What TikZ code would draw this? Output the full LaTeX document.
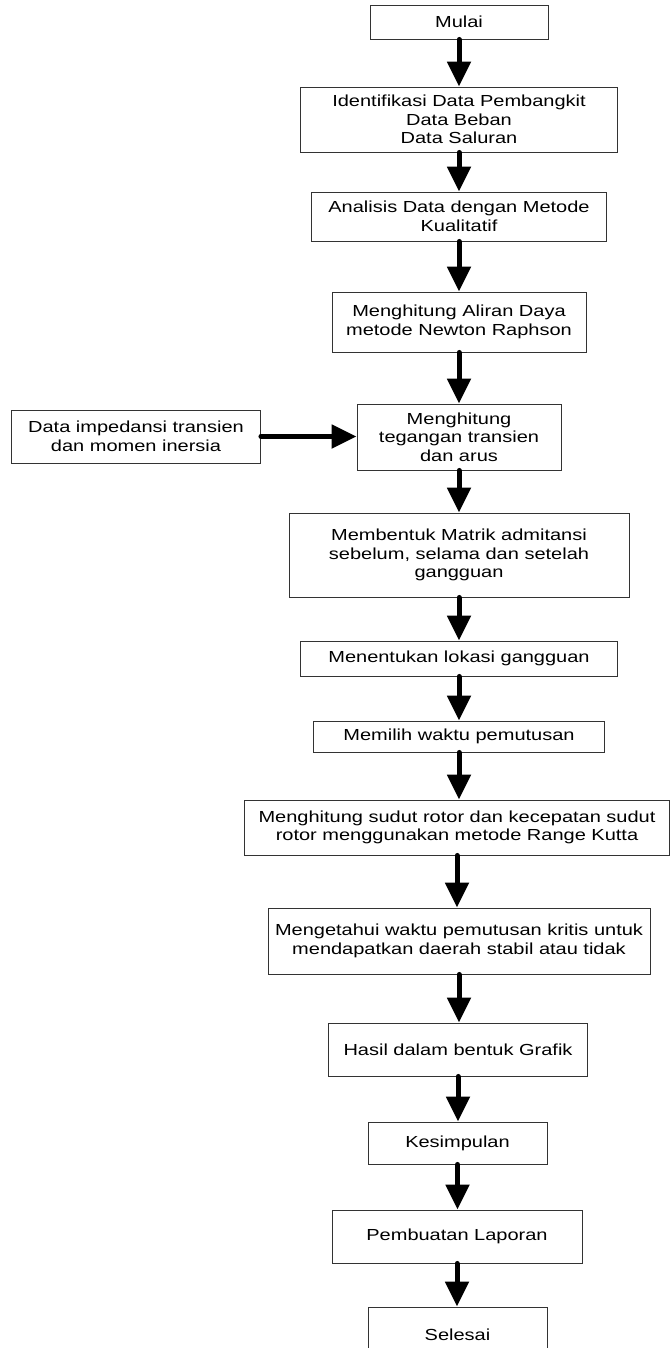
\documentclass[tikz,border=0pt]{standalone}
\usepackage{fontspec}
\setmainfont[FakeStretch=1.25]{Liberation Sans}
\usetikzlibrary{arrows.meta}
\tikzset{
  box/.style={draw=black!80, line width=0.9pt, fill=white, align=center,
    inner sep=0pt, font=\fontsize{16}{18.6}\selectfont},
  flow/.style={line width=5pt, line cap=round,
    -{Triangle[width=23pt,length=25pt]}}
}
\begin{document}
\begin{tikzpicture}[x=1pt,y=-1pt]
\useasboundingbox (0,0) rectangle (670,1348);
\node[box, minimum width=178pt, minimum height=34pt] (mulai) at (459,22) {Mulai};
\node[box, minimum width=317pt, minimum height=65pt] (ident) at (459,119.5) {Identifikasi Data Pembangkit\\Data Beban\\Data Saluran};
\node[box, minimum width=295pt, minimum height=49pt] (anal) at (459,216.5) {Analisis Data dengan Metode\\Kualitatif};
\node[box, minimum width=254pt, minimum height=60pt] (aliran) at (459,322) {Menghitung Aliran Daya\\metode Newton Raphson};
\node[box, minimum width=204pt, minimum height=66pt] (teg) at (459,437) {Menghitung\\tegangan transien\\dan arus};
\node[box, minimum width=249pt, minimum height=53pt] (imp) at (136,436.5) {Data impedansi transien\\dan momen inersia};
\node[box, minimum width=340pt, minimum height=84pt] (matrik) at (459,555) {Membentuk Matrik admitansi\\sebelum, selama dan setelah\\gangguan};
\node[box, minimum width=317pt, minimum height=35pt] (lokasi) at (459,658.5) {Menentukan lokasi gangguan};
\node[box, minimum width=291pt, minimum height=31pt] (waktu) at (459,736.5) {Memilih waktu pemutusan};
\node[box, minimum width=425pt, minimum height=55pt] (sudut) at (457,827.5) {Menghitung sudut rotor dan kecepatan sudut\\rotor menggunakan metode Range Kutta};
\node[box, minimum width=382pt, minimum height=66pt] (kritis) at (459,941) {Mengetahui waktu pemutusan kritis untuk\\mendapatkan daerah stabil atau tidak};
\node[box, minimum width=259pt, minimum height=53pt] (hasil) at (458,1049.5) {Hasil dalam bentuk Grafik};
\node[box, minimum width=179pt, minimum height=42pt] (simpul) at (457.5,1143) {Kesimpulan};
\node[box, minimum width=250pt, minimum height=53pt] (lapor) at (457,1236.5) {Pembuatan Laporan};
\node[box, minimum width=179pt, minimum height=56pt] (selesai) at (457.5,1335) {Selesai};

\draw[flow] (mulai.south) -- (mulai.south |- ident.north);
\draw[flow] (ident.south) -- (ident.south |- anal.north);
\draw[flow] (anal.south) -- (anal.south |- aliran.north);
\draw[flow] (aliran.south) -- (aliran.south |- teg.north);
\draw[flow] (imp.east) -- (imp.east -| teg.west);
\draw[flow] (teg.south) -- (teg.south |- matrik.north);
\draw[flow] (matrik.south) -- (matrik.south |- lokasi.north);
\draw[flow] (lokasi.south) -- (lokasi.south |- waktu.north);
\draw[flow] (waktu.south) -- (waktu.south |- sudut.north);
\draw[flow] (sudut.south) -- (sudut.south |- kritis.north);
\draw[flow] (kritis.south) -- (kritis.south |- hasil.north);
\draw[flow] (hasil.south) -- (hasil.south |- simpul.north);
\draw[flow] (simpul.south) -- (simpul.south |- lapor.north);
\draw[flow] (lapor.south) -- (lapor.south |- selesai.north);
\end{tikzpicture}
\end{document}
